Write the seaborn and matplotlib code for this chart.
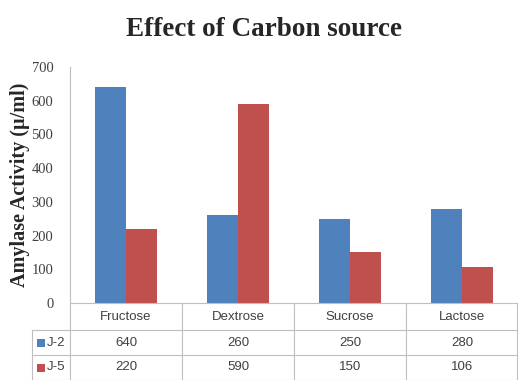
import matplotlib
matplotlib.use("Agg")
import matplotlib.pyplot as plt
from matplotlib.lines import Line2D
from matplotlib.patches import Rectangle
import seaborn as sns
import pandas as pd

categories = ["Fructose", "Dextrose", "Sucrose", "Lactose"]
series_names = ["J-2", "J-5"]
j2_values = [640, 260, 250, 280]
j5_values = [220, 590, 150, 106]
y_ticks = [0, 100, 200, 300, 400, 500, 600, 700]
colors = ["#4F81BD", "#C0504D"]

df = pd.DataFrame({
    "Source": categories * 2,
    "Strain": [series_names[0]] * 4 + [series_names[1]] * 4,
    "Activity": j2_values + j5_values,
})

sns.set_style("white")
W, H = 518, 380
fig = plt.figure(figsize=(W / 100, H / 100), dpi=100)

# plot area in pixel units
ax_left, ax_right, ax_top, ax_bottom = 70, 518, 67, 303
ax = fig.add_axes([ax_left / W, 1 - ax_bottom / H,
                   (ax_right - ax_left) / W, (ax_bottom - ax_top) / H])

sns.barplot(data=df, x="Source", y="Activity", hue="Strain",
            palette=colors, width=0.56, gap=0, ax=ax, legend=False,
            saturation=1, edgecolor="none", linewidth=0)

ax.set_xlim(-0.5, len(categories) - 0.5)
ax.set_ylim(0, 700)
ax.set_yticks(y_ticks)
ax.set_yticklabels([str(t) for t in y_ticks], family="Liberation Serif",
                   fontsize=10.5, color="#404040")
ax.tick_params(axis="y", length=0, pad=12)
ax.set_xticks([])
ax.set_xlabel("")
ax.set_ylabel("Amylase Activity (\u00b5/ml)", family="Liberation Serif",
              fontsize=14.5, fontweight="bold", labelpad=1)
for s in ["top", "right"]:
    ax.spines[s].set_visible(False)
grid_c = "#BFBFBF"
ax.spines["left"].set_color(grid_c)
ax.spines["bottom"].set_color(grid_c)
ax.spines["left"].set_linewidth(0.8)
ax.spines["bottom"].set_linewidth(0.8)

fig.text(264 / W, 1 - 30 / H, "Effect of Carbon source",
         family="Liberation Serif", fontweight="bold", fontsize=19.5,
         ha="center", va="center")

# data table under the plot
def fx(px):
    return px / W

def fy(py):
    return 1 - py / H

def hline(y, x0, x1):
    fig.add_artist(Line2D([fx(x0), fx(x1)], [fy(y), fy(y)], color=grid_c, lw=0.8))

def vline(x, y0, y1):
    fig.add_artist(Line2D([fx(x), fx(x)], [fy(y0), fy(y1)], color=grid_c, lw=0.8))

label_left = 32
row_edges = [303, 330, 355, 380]
col_w = (ax_right - ax_left) / len(categories)
col_edges = [ax_left + i * col_w for i in range(len(categories) + 1)]

hline(row_edges[1], label_left, ax_right)
hline(row_edges[2], label_left, ax_right)
hline(row_edges[3] - 0.5, label_left, ax_right)
vline(label_left, row_edges[1], row_edges[3])
for x in col_edges:
    vline(min(x, ax_right - 1), row_edges[0], row_edges[3])

tbl_font = dict(family="Liberation Sans", fontsize=9.5, color="#404040",
                va="center")
for i, name in enumerate(categories):
    cx = (col_edges[i] + col_edges[i + 1]) / 2
    fig.text(fx(cx), fy((row_edges[0] + row_edges[1]) / 2), name,
             ha="center", **tbl_font)
for r, (name, vals) in enumerate(zip(series_names, [j2_values, j5_values])):
    cy = (row_edges[r + 1] + row_edges[r + 2]) / 2
    fig.add_artist(Rectangle((fx(label_left + 5), fy(cy + 4)), 8 / W, 8 / H,
                             facecolor=colors[r], edgecolor="none",
                             transform=fig.transFigure))
    fig.text(fx(label_left + 15), fy(cy), name, ha="left", **tbl_font)
    for i, v in enumerate(vals):
        cx = (col_edges[i] + col_edges[i + 1]) / 2
        fig.text(fx(cx), fy(cy), str(v), ha="center", **tbl_font)

fig.savefig("out.png", dpi=100)
